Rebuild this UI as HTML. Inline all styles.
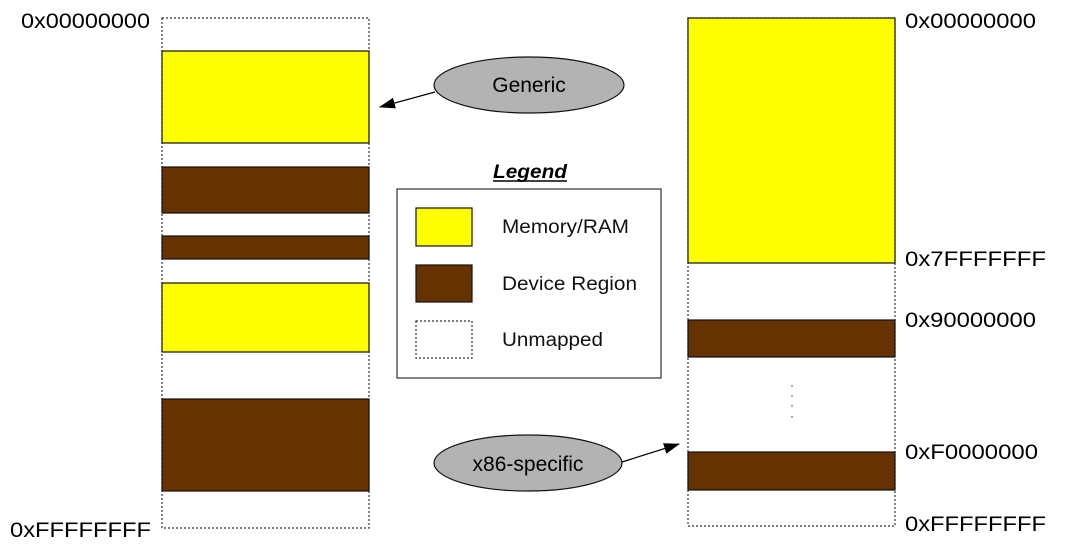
<!DOCTYPE html>
<html><head><meta charset="utf-8"><style>body{margin:0;background:#fff}svg{display:block}</style></head>
<body>
<svg width="1067" height="552" xmlns="http://www.w3.org/2000/svg" font-family="Liberation Sans, sans-serif">
<defs><marker id="ah" markerWidth="16" markerHeight="11" refX="15" refY="5.5" orient="auto" markerUnits="userSpaceOnUse"><path d="M0,0 L16,5.5 L0,11 Z" fill="#000"/></marker></defs>
<rect width="1067" height="552" fill="#fff"/>
<g stroke="#333" stroke-width="1.2" stroke-dasharray="2,2" fill="none">
<rect x="162" y="18" width="207" height="510"/>
<rect x="688" y="18" width="207" height="508"/>
<rect x="416" y="321" width="56" height="37"/>
</g>
<g stroke="#111" stroke-width="1.2">
<rect x="162" y="51" width="207" height="92" fill="#ffff00"/>
<rect x="162" y="167" width="207" height="46" fill="#663300"/>
<rect x="162" y="236" width="207" height="23" fill="#663300"/>
<rect x="162" y="283" width="207" height="69" fill="#ffff00"/>
<rect x="162" y="399" width="207" height="92" fill="#663300"/>
<rect x="688" y="18" width="207" height="245" fill="#ffff00"/>
<rect x="688" y="320" width="207" height="37" fill="#663300"/>
<rect x="688" y="452" width="207" height="38" fill="#663300"/>
<rect x="397" y="189" width="264" height="189" fill="none" stroke="#333"/>
<rect x="416" y="208" width="56" height="38" fill="#ffff00"/>
<rect x="416" y="265" width="56" height="37" fill="#663300"/>
</g>
<g fill="#333"><circle cx="792" cy="386" r="0.7"/><circle cx="792" cy="396" r="0.7"/><circle cx="792" cy="406" r="0.7"/><circle cx="792" cy="417" r="0.7"/></g>
<ellipse cx="529" cy="85" rx="95" ry="28" fill="#b3b3b3" stroke="#111" stroke-width="1.2"/>
<ellipse cx="528" cy="463" rx="94" ry="28" fill="#b3b3b3" stroke="#111" stroke-width="1.2"/>
<line x1="435" y1="92" x2="380" y2="107" stroke="#000" stroke-width="1.2" marker-end="url(#ah)"/>
<line x1="622" y1="462" x2="679" y2="444" stroke="#000" stroke-width="1.2" marker-end="url(#ah)"/>
<g font-size="21" fill="#000">
<text x="529" y="92" text-anchor="middle">Generic</text>
<text x="528" y="471" text-anchor="middle">x86-specific</text>
<text x="21" y="28" textLength="129" lengthAdjust="spacingAndGlyphs">0x00000000</text>
<text x="10" y="537" textLength="141" lengthAdjust="spacingAndGlyphs">0xFFFFFFFF</text>
<text x="905" y="28" textLength="131" lengthAdjust="spacingAndGlyphs">0x00000000</text>
<text x="905" y="266" textLength="141" lengthAdjust="spacingAndGlyphs">0x7FFFFFFF</text>
<text x="905" y="327" textLength="131" lengthAdjust="spacingAndGlyphs">0x90000000</text>
<text x="905" y="459" textLength="133" lengthAdjust="spacingAndGlyphs">0xF0000000</text>
<text x="905" y="531" textLength="141" lengthAdjust="spacingAndGlyphs">0xFFFFFFFF</text>
</g>
<g font-size="19" fill="#111">
<text x="502" y="233" textLength="127" lengthAdjust="spacingAndGlyphs">Memory/RAM</text>
<text x="502" y="290" textLength="135" lengthAdjust="spacingAndGlyphs">Device Region</text>
<text x="502" y="346" textLength="101" lengthAdjust="spacingAndGlyphs">Unmapped</text>
</g>
<text x="493" y="178" font-size="19" font-weight="bold" font-style="italic" textLength="74" lengthAdjust="spacingAndGlyphs">Legend</text>
<line x1="493" y1="181" x2="567" y2="181" stroke="#000" stroke-width="1.5"/>
</svg>
</body></html>
